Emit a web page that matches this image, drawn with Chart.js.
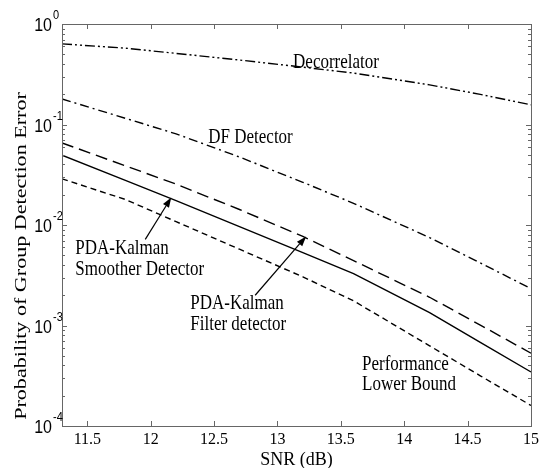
<!DOCTYPE html>
<html><head><meta charset="utf-8">
<script src="https://cdn.jsdelivr.net/npm/chart.js@4/dist/chart.umd.min.js"></script>
<style>html,body{margin:0;padding:0;background:#fff}#wrap{width:542px;height:468px}</style>
</head><body><div id="wrap"><canvas id="c" width="542" height="468"></canvas></div>
<script>
// ---- data ----
const snr = [11.3, 11.8, 12.2, 12.7, 13.2, 13.6, 14.2, 14.6, 15.0];
const decorrelator   = [0.634, 0.575, 0.51, 0.438, 0.372, 0.325, 0.248, 0.1995, 0.157];
const dfDetector     = [0.1795, 0.1153, 0.0807, 0.0475, 0.0266, 0.01644, 0.0075, 0.00419, 0.00233];
const kalmanFilter   = [0.0656, 0.0388, 0.0255, 0.01426, 0.00769, 0.00442, 0.00191, 0.00101, 0.00053];
const kalmanSmoother = [0.0495, 0.0278, 0.0175, 0.00964, 0.0053, 0.00328, 0.00134, 0.00068, 0.000345];
const lowerBound     = [0.0288, 0.01795, 0.0108, 0.00574, 0.00305, 0.00176, 0.000628, 0.000316, 0.00016];
const xTicks = [11.5, 12, 12.5, 13, 13.5, 14, 14.5, 15];
const yDecades = [1, 0.1, 0.01, 0.001, 0.0001];
const yExponents = ['0', '-1', '-2', '-3', '-4'];
const xTitle = 'SNR (dB)';
const yTitle = 'Probability of Group Detection Error';
// annotation texts, anchored in data coordinates (SNR, probability)
const notes = [
  {text: ['Decorrelator'], x: 13.123, y: [0.366]},
  {text: ['DF Detector'], x: 12.454, y: [0.0659]},
  {text: ['PDA-Kalman', 'Smoother Detector'], x: 11.405, y: [0.0051, 0.00316], arrowFrom: [11.957, 0.0072], arrowTo: [12.162, 0.0188]},
  {text: ['PDA-Kalman', 'Filter detector'], x: 12.312, y: [0.001455, 0.0009], arrowFrom: [12.824, 0.002], arrowTo: [13.226, 0.0077]},
  {text: ['Performance', 'Lower Bound'], x: 13.667, y: [0.000361, 0.000229]}
];

const SERIF = '"Liberation Serif", "Times New Roman", serif';
const SANS = '"Liberation Sans", Arial, sans-serif';

const mk = (arr) => snr.map((x, i) => ({x: x, y: arr[i]}));
const base = {borderColor: '#000', borderWidth: 1.4, pointRadius: 0, fill: false, tension: 0};
const datasets = [
  Object.assign({}, base, {label: 'Decorrelator', data: mk(decorrelator), borderDash: [10, 3, 2, 3, 2, 3]}),
  Object.assign({}, base, {label: 'DF Detector', data: mk(dfDetector), borderDash: [9, 4, 2, 4]}),
  Object.assign({}, base, {label: 'PDA-Kalman Filter', data: mk(kalmanFilter), borderDash: [12, 6]}),
  Object.assign({}, base, {label: 'PDA-Kalman Smoother', data: mk(kalmanSmoother)}),
  Object.assign({}, base, {label: 'Lower Bound', data: mk(lowerBound), borderDash: [6, 4]})
];

function sText(ctx, str, px, py, sy) {
  ctx.save(); ctx.translate(px, py); ctx.scale(1, sy); ctx.fillText(str, 0, 0); ctx.restore();
}

const deco = {
  id: 'deco',
  afterDraw(chart) {
    const {ctx, chartArea: a, scales: {x, y}} = chart;
    ctx.save();
    // frame
    ctx.strokeStyle = '#666'; ctx.lineWidth = 1;
    ctx.strokeRect(Math.round(a.left) + 0.5, Math.round(a.top) + 0.5, Math.round(a.right - a.left), Math.round(a.bottom - a.top));
    // inward ticks
    ctx.beginPath();
    xTicks.forEach(v => {
      const p = Math.round(x.getPixelForValue(v)) + 0.5;
      ctx.moveTo(p, a.bottom); ctx.lineTo(p, a.bottom - 5);
      ctx.moveTo(p, a.top); ctx.lineTo(p, a.top + 5);
    });
    yDecades.forEach(d => {
      for (let k = 1; k < 10; k++) {
        const v = d * k;
        if (v > 1.0001 || v < 0.00009999) continue;
        const p = Math.round(y.getPixelForValue(v)) + 0.5;
        const L = k === 1 ? 5 : 3;
        ctx.moveTo(a.left, p); ctx.lineTo(a.left + L, p);
        ctx.moveTo(a.right, p); ctx.lineTo(a.right - L, p);
      }
    });
    ctx.stroke();
    // y tick labels 10^n
    ctx.fillStyle = '#000';
    ctx.textBaseline = 'alphabetic';
    yDecades.forEach((d, i) => {
      const p = y.getPixelForValue(d);
      ctx.font = '16px ' + SANS; ctx.textAlign = 'right';
      sText(ctx, '10', a.left - 10, p + 7, 1.1);
      ctx.font = '11px ' + SANS; ctx.textAlign = 'left';
      sText(ctx, yExponents[i], a.left - 9, p - 5, 1.1);
    });
    // y title
    ctx.save();
    ctx.translate(26, 256);
    ctx.rotate(-Math.PI / 2);
    ctx.scale(1.3, 1);
    ctx.font = '17px ' + SERIF; ctx.textAlign = 'center'; ctx.textBaseline = 'alphabetic';
    ctx.fillText(yTitle, 0, 0);
    ctx.restore();
    // annotations
    ctx.font = '17px ' + SERIF; ctx.textAlign = 'left'; ctx.textBaseline = 'alphabetic';
    notes.forEach(n => {
      const px = x.getPixelForValue(n.x);
      n.text.forEach((t, j) => sText(ctx, t, px, y.getPixelForValue(n.y[j]), 1.2));
      if (n.arrowFrom) {
        const x0 = x.getPixelForValue(n.arrowFrom[0]), y0 = y.getPixelForValue(n.arrowFrom[1]);
        const x1 = x.getPixelForValue(n.arrowTo[0]), y1 = y.getPixelForValue(n.arrowTo[1]);
        const ang = Math.atan2(y1 - y0, x1 - x0);
        const hl = 10, hw = 3.5;
        ctx.beginPath(); ctx.lineWidth = 1.2; ctx.strokeStyle = '#000';
        ctx.moveTo(x0, y0);
        ctx.lineTo(x1 - hl * Math.cos(ang), y1 - hl * Math.sin(ang));
        ctx.stroke();
        ctx.beginPath();
        ctx.moveTo(x1, y1);
        ctx.lineTo(x1 - hl * Math.cos(ang) + hw * Math.sin(ang), y1 - hl * Math.sin(ang) - hw * Math.cos(ang));
        ctx.lineTo(x1 - hl * Math.cos(ang) - hw * Math.sin(ang), y1 - hl * Math.sin(ang) + hw * Math.cos(ang));
        ctx.closePath(); ctx.fillStyle = '#000'; ctx.fill();
      }
    });
    ctx.restore();
  }
};

new Chart(document.getElementById('c'), {
  type: 'line',
  data: {datasets: datasets},
  options: {
    responsive: false, animation: false, devicePixelRatio: 1,
    layout: {padding: {top: 24, right: 11, left: 0, bottom: 0}},
    plugins: {legend: {display: false}, tooltip: {enabled: false}},
    scales: {
      x: {
        type: 'linear', min: 11.3, max: 15,
        afterBuildTicks: s => { s.ticks = xTicks.map(v => ({value: v})); },
        afterFit: s => { s.height = 42; },
        grid: {display: false, drawTicks: true, tickLength: 4},
        border: {display: false},
        ticks: {padding: 0, color: '#000', font: {family: SERIF, size: 16}, maxRotation: 0, autoSkip: false,
                callback: v => String(v)},
        title: {display: true, text: xTitle, color: '#000', font: {family: SERIF, size: 18}, padding: {top: 0, bottom: -3}}
      },
      y: {
        type: 'logarithmic', min: 0.0001, max: 1,
        afterFit: s => { s.width = 62; },
        grid: {display: false},
        border: {display: false},
        ticks: {display: false}
      }
    }
  },
  plugins: [deco]
});
</script>
</body></html>
